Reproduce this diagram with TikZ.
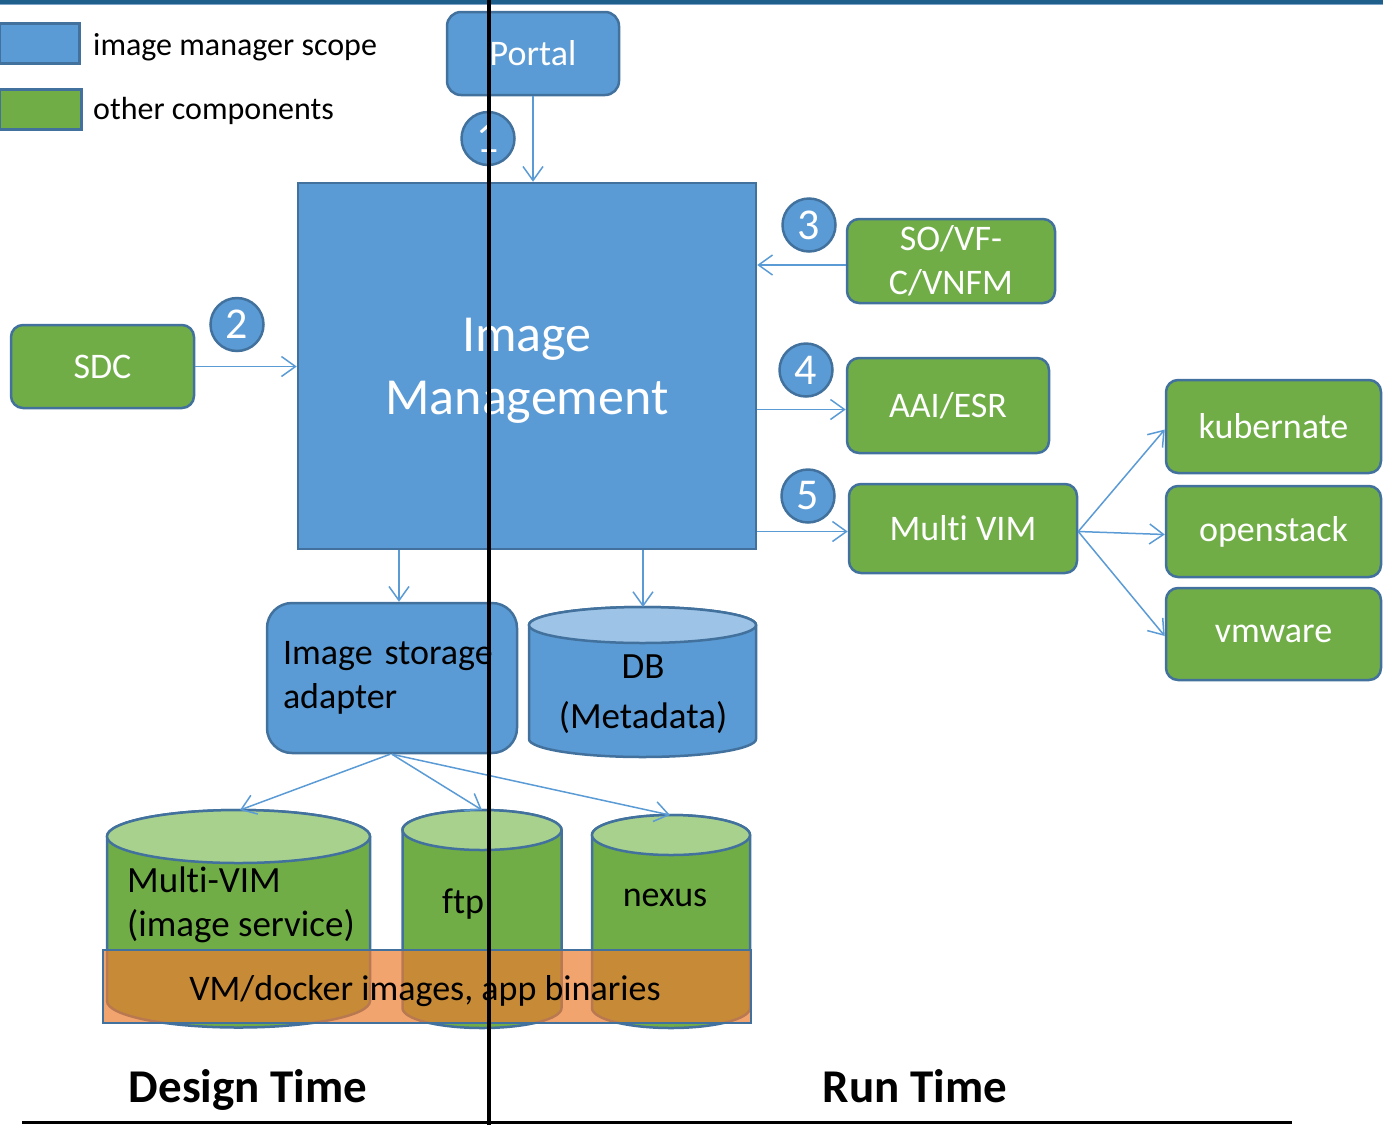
\documentclass[tikz,border=0pt]{standalone}
\usepackage{fontspec}
\setmainfont{Carlito}[Ligatures=NoCommon]
\usetikzlibrary{arrows.meta}
\definecolor{bfill}{HTML}{5B9BD5}
\definecolor{bord}{HTML}{41719C}
\definecolor{gfill}{HTML}{70AD47}
\definecolor{gtop}{HTML}{A9D18E}
\definecolor{btop}{HTML}{9DC3E6}
\definecolor{orng}{HTML}{ED7D31}
\definecolor{topbar}{HTML}{1F5F8B}
\definecolor{topline}{HTML}{7FA3C6}
\newcommand\drawcyl[7]{%
  \path[draw=bord,line width=2.5pt,fill=#6] (#1-#2,-#3) -- (#1-#2,-#4)
    arc[start angle=180,end angle=360,x radius=#2,y radius=#5] -- (#1+#2,-#3)
    arc[start angle=0,end angle=180,x radius=#2,y radius=#5] -- cycle;
  \path[draw=bord,line width=2.5pt,fill=#7] (#1,-#3) ellipse[x radius=#2,y radius=#5];
}
\tikzset{
  box/.style={draw=bord,line width=2.5pt,rounded corners=12pt,inner sep=0pt,text=white,
    font=\fontsize{36}{44}\selectfont,align=center},
  bluebox/.style={box,fill=bfill},
  greenbox/.style={box,fill=gfill},
  num/.style={circle,draw=bord,line width=2.5pt,fill=bfill,minimum size=53pt,inner sep=0pt,
    text=white,font=\fontsize{44}{46}\selectfont},
  conn/.style={draw=bfill,line width=1.5pt,-{Straight Barb[length=14pt,width=20pt]}},
  lbl/.style={inner sep=0pt,font=\fontsize{36}{44}\selectfont,align=left},
  legtxt/.style={inner sep=0pt,anchor=west,font=\fontsize{32}{38}\selectfont},
  legbox/.style={draw=bord,line width=2.5pt,inner sep=0pt,anchor=north west},
  title/.style={inner sep=0pt,anchor=base,font=\fontsize{47}{52}\selectfont\bfseries},
}
\begin{document}
\begin{tikzpicture}[x=1pt,y=1pt]
\useasboundingbox (0,0) rectangle (1383,-1125);
% top bar
\fill[topbar] (0,0) rectangle (1383,-3.5);
\draw[topline,line width=1.2pt] (0,-4.6) -- (1383,-4.6);

% legend
\node[legbox,fill=bfill,minimum width=80pt,minimum height=40pt] (legb) at (-2,-22) {};
\node[legbox,fill=gfill,minimum width=82pt,minimum height=40pt] (legg) at (-2,-88) {};
\node[legtxt] (legbt) at (93,-47) {image manager scope};
\node[legtxt] (leggt) at (93,-111) {other components};

% main nodes
\node[bluebox,minimum width=172pt,minimum height=83pt,rounded corners=14pt] (portal) at (533,-53.5) {Portal};
\node[bluebox,sharp corners,minimum width=458pt,minimum height=366pt,
      font=\fontsize{52}{63}\selectfont,text depth=0pt] (im) at (527,-366) {Image\\Management};
\node[greenbox,minimum width=183pt,minimum height=83pt] (sdc) at (102.5,-366.5) {SDC};
\node[greenbox,minimum width=208pt,minimum height=84pt] (so) at (951,-261) {SO/VF-\\C/VNFM};
\node[greenbox,minimum width=202pt,minimum height=95pt] (aai) at (948,-405.5) {AAI/ESR};
\node[greenbox,minimum width=228pt,minimum height=89pt] (mvim) at (963,-528.5) {Multi VIM};
\node[greenbox,minimum width=215pt,minimum height=93pt] (kub) at (1273.5,-426.5) {kubernate};
\node[greenbox,minimum width=215pt,minimum height=91pt] (ops) at (1273.5,-531.5) {openstack};
\node[greenbox,minimum width=215pt,minimum height=92pt] (vmw) at (1273.5,-634) {vmware};
\node[bluebox,rounded corners=25pt,minimum width=250pt,minimum height=150pt,text=black,
      align=left,text width=218pt,inner xsep=16pt] (isa) at (392,-678) {Image storage\\adapter};

% number circles
\node[num] (n1) at (488,-138.5) {1};
\node[num] (n2) at (237,-324.5) {2};
\node[num] (n3) at (809,-225) {3};
\node[num] (n4) at (806,-370) {4};
\node[num] (n5) at (808,-496) {5};

% cylinders
\drawcyl{642.5}{113.5}{625}{739}{18}{bfill}{btop}
\drawcyl{238.5}{131.5}{836.5}{1001}{26.5}{gfill}{gtop}
\drawcyl{482}{79.5}{830}{1008}{20}{gfill}{gtop}
\drawcyl{671}{79}{835}{1008}{20}{gfill}{gtop}
\coordinate (dbtop) at (643,-607);
\coordinate (mvtop) at (240,-810);
\coordinate (ftptop) at (482,-810);
\coordinate (nxtop) at (670,-815);
\node[lbl,align=center,font=\fontsize{37}{50}\selectfont] (db) at (643,-694) {DB\\(Metadata)};
\node[lbl,anchor=west,font=\fontsize{37}{44}\selectfont] (mvcyl) at (127,-905) {Multi-VIM\\(image service)};
\node[lbl] (ftp) at (463,-904) {ftp};
\node[lbl] (nexus) at (665,-898) {nexus};

% orange bar
\node[draw=bord,line width=2pt,fill=orng,fill opacity=0.7,text opacity=1,minimum width=648pt,
      minimum height=73pt,inner sep=0pt] (bar) at (427,-986.5) {};
\node[lbl,font=\fontsize{36}{44}\selectfont] (bartxt) at (425,-991) {VM/docker images, app binaries};

% connectors
\draw[conn] (portal.south) -- (portal.south |- im.north);
\draw[conn] (sdc.east) -- (sdc.east -| im.west);
\draw[conn] ([yshift=-4pt]so.west) -- ([yshift=-4pt]so.west -| im.east);
\draw[conn] ([yshift=-4pt]aai.west -| im.east) -- ([yshift=-4pt]aai.west);
\draw[conn] ([yshift=-3pt]mvim.west -| im.east) -- ([yshift=-3pt]mvim.west);
\draw[conn] ([yshift=-3pt]mvim.east) -- ([yshift=-3pt]kub.west);
\draw[conn] ([yshift=-3pt]mvim.east) -- ([yshift=-3pt]ops.west);
\draw[conn] ([yshift=-3pt]mvim.east) -- ([yshift=-2pt]vmw.west);
\draw[conn] ([xshift=7pt]isa.north |- im.south) -- ([xshift=7pt]isa.north);
\draw[conn] (dbtop |- im.south) -- (dbtop);
\draw[conn] ([xshift=-2pt]isa.south) -- (mvtop);
\draw[conn] (isa.south) -- (ftptop);
\draw[conn] (isa.south) -- (nxtop);

% titles and dividers
\node[title] (dt) at (248,-1102) {Design Time};
\node[title] (rt) at (915,-1102) {Run Time};
\draw[line width=3pt] (22,-1122) -- (1292,-1122);
\draw[line width=4pt] (489,0) -- (489,-1125);
\end{tikzpicture}
\end{document}
